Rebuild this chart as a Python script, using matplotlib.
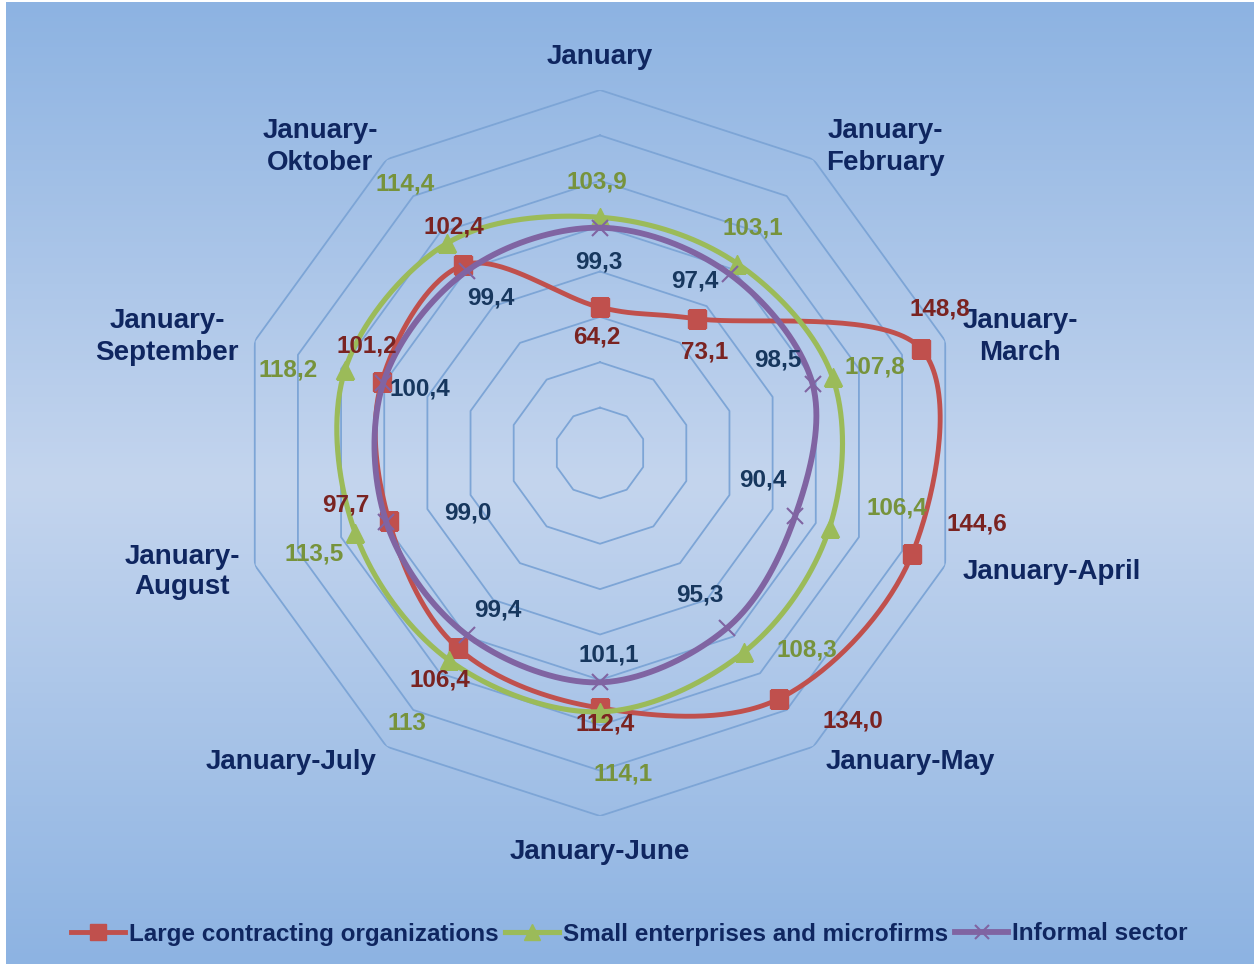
import numpy as np
import matplotlib.pyplot as plt
from matplotlib.lines import Line2D
from matplotlib.colors import LinearSegmentedColormap

W, H = 1259, 964

categories = ["January", "January-\nFebruary", "January-\nMarch", "January-April",
              "January-May", "January-June", "January-July", "January-\nAugust",
              "January-\nSeptember", "January-\nOktober"]
large = [64.2, 73.1, 148.8, 144.6, 134.0, 112.4, 106.4, 97.7, 101.2, 102.4]
small = [103.9, 103.1, 107.8, 106.4, 108.3, 114.1, 113, 113.5, 118.2, 114.4]
informal = [99.3, 97.4, 98.5, 90.4, 95.3, 101.1, 99.4, 99.0, 100.4, 99.4]
series_names = ["Large contracting organizations", "Small enterprises and microfirms",
                "Informal sector"]
rings = [20, 40, 60, 80, 100, 120, 140, 160]

# label positions (pixels, image coords) and offsets of value labels from points
cat_pos = [(600, 57), (885, 147), (1020, 337), (1052, 572), (910, 762),
           (600, 852), (291, 762), (182, 572), (167, 337), (320, 147)]
off_large = [(-3, 30), (7, 33), (19, -40), (65, -30), (74, 22),
             (5, 16), (-18, 32), (-43, -16), (-15, -36), (-10, -38)]
off_small = [(-3, -35), (15, -36), (42, -10), (67, -20), (62, -2),
             (23, 62), (-42, 63), (-41, 21), (-57, 0), (-42, -59)]
off_inf = [(-1, 34), (-35, 7), (-35, -24), (-32, -36), (-27, -33),
           (9, -27), (30, -25), (81, -9), (37, 6), (23, 27)]

plt.rcParams['font.family'] = ['Liberation Sans', 'DejaVu Sans']


def fmt(v):
    if isinstance(v, int):
        return str(v)
    return f"{v:.1f}".replace('.', ',')


def smooth(theta, r, steps=40):
    # closed Catmull-Rom / bezier like Excel's smoothed lines
    x = r * np.sin(theta)
    y = r * np.cos(theta)
    P = np.column_stack([x, y])
    n = len(P)
    out = []
    t = np.linspace(0, 1, steps, endpoint=False)[:, None]
    for i in range(n):
        p0, p1, p2, p3 = P[i - 1], P[i], P[(i + 1) % n], P[(i + 2) % n]
        c1 = p1 + (p2 - p0) / 6
        c2 = p2 - (p3 - p1) / 6
        seg = ((1 - t) ** 3) * p1 + 3 * ((1 - t) ** 2) * t * c1 + 3 * (1 - t) * t ** 2 * c2 + t ** 3 * p2
        out.append(seg)
    out.append(P[:1])
    out = np.vstack(out)
    th = np.unwrap(np.arctan2(out[:, 0], out[:, 1]))
    rr = np.hypot(out[:, 0], out[:, 1])
    return th, rr


fig = plt.figure(figsize=(W / 100, H / 100), dpi=100)
fig.patch.set_facecolor('white')

# background gradient
bg = fig.add_axes([6 / W, 0, (W - 11) / W, (H - 2) / H])
cmap = LinearSegmentedColormap.from_list('bg', ['#8db3e2', '#c4d5ee', '#8db3e2'])
grad = np.linspace(0, 1, 256)[:, None]
bg.imshow(grad, aspect='auto', cmap=cmap, extent=[0, 1, 0, 1])
bg.axis('off')

cx, cy, R = 600, 453, 363
ax = fig.add_axes([(cx - R) / W, (H - cy - R) / H, 2 * R / W, 2 * R / H], projection='polar')
ax.set_facecolor('none')
ax.set_theta_zero_location('N')
ax.set_theta_direction(-1)
ax.set_ylim(0, 160)
ax.grid(False)
ax.spines['polar'].set_visible(False)
ax.set_xticks([])
ax.set_yticks([])

n = len(categories)
theta = np.arange(n) * 2 * np.pi / n
closed = np.append(theta, theta[0])
for r in rings:
    ax.plot(closed, [r] * (n + 1), color='#7da5d6', lw=1.3, zorder=1)

styles = [
    (large, '#c0504d', 's', 13, 3.5, '#7a2321', off_large),
    (small, '#9bbb59', '^', 13.5, 3.7, '#77933c', off_small),
    (informal, '#8064a2', 'x', 11.5, 4.2, '#17375e', off_inf),
]
handles = []
for k, (vals, col, mk, ms, lw, tcol, offs) in enumerate(styles):
    v = np.array(vals, dtype=float)
    th, rr = smooth(theta, v)
    ax.plot(th, rr, color=col, lw=lw, zorder=3 + k, solid_capstyle='round')
    if mk == 'x':
        ax.plot(theta, v, ls='none', marker=mk, ms=ms, mew=1.5, color=col, zorder=3 + k)
    else:
        ax.plot(theta, v, ls='none', marker=mk, ms=ms, color=col, mec=col, zorder=3 + k)
    for i in range(n):
        ax.annotate(fmt(vals[i]), xy=(theta[i], v[i]), xytext=(offs[i][0], -offs[i][1]),
                    textcoords='offset pixels', ha='center', va='center',
                    fontsize=17.5, fontweight='bold', color=tcol, zorder=10)
    handles.append(Line2D([], [], color=col, lw=lw, marker=mk, ms=ms * 0.85,
                          mew=1.5 if mk == 'x' else 1, mec=col))

for lab, (px, py) in zip(categories, cat_pos):
    fig.text(px / W, 1 - py / H, lab, ha='center', va='center', fontsize=20,
             fontweight='bold', color='#0f2660', linespacing=1.25)

leg = fig.legend(handles, series_names, loc='center', bbox_to_anchor=(0.5, 1 - 934 / H),
                 ncol=3, frameon=False, handlelength=2.2, handletextpad=0.15,
                 columnspacing=0.3, prop={'size': 17.5, 'weight': 'bold'})
for t in leg.get_texts():
    t.set_color('#0f2660')

fig.savefig('out.png', dpi=100, facecolor=fig.get_facecolor())
